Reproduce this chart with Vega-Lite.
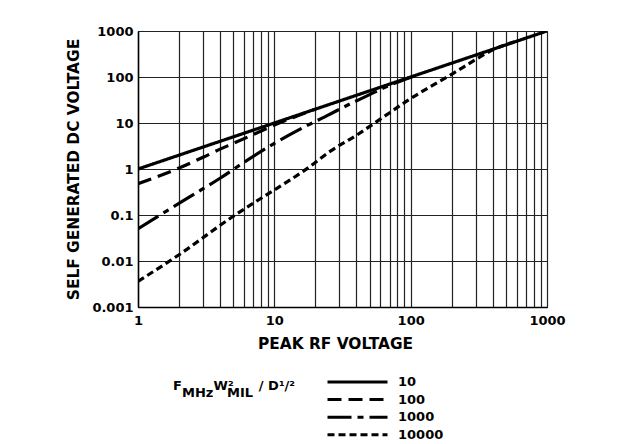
{
  "$schema": "https://vega.github.io/schema/vega-lite/v6.json",
  "description": "Self generated DC voltage vs peak RF voltage, log-log, four parameter curves.",
  "width": 409,
  "height": 276,
  "autosize": {"type": "none"},
  "padding": {"left": 138, "top": 31, "right": 76, "bottom": 137},
  "background": "white",
  "config": {
    "view": {"stroke": "#222", "strokeWidth": 1},
    "axis": {
      "labelFont": "DejaVu Sans",
      "labelFontWeight": "bold",
      "labelFontSize": 13,
      "labelColor": "black",
      "labelFlush": false,
      "labelOverlap": false,
      "titleFont": "DejaVu Sans",
      "titleFontWeight": "bold",
      "titleFontSize": 15.4,
      "titleColor": "black",
      "ticks": false,
      "domainColor": "black",
      "domainWidth": 1.5,
      "gridColor": "#222",
      "gridWidth": 1.2,
      "gridOpacity": 1
    }
  },
  "data": {
    "values": [
      {"series": "10", "x": 1, "y": 1},
      {"series": "10", "x": 1000, "y": 1000},

      {"series": "100", "x": 1, "y": 0.48},
      {"series": "100", "x": 2, "y": 1.05},
      {"series": "100", "x": 3, "y": 1.8},
      {"series": "100", "x": 4, "y": 2.7},
      {"series": "100", "x": 5, "y": 3.6},
      {"series": "100", "x": 7, "y": 5.6},
      {"series": "100", "x": 10, "y": 9},
      {"series": "100", "x": 15, "y": 14.5},
      {"series": "100", "x": 20, "y": 20},

      {"series": "1000", "x": 1, "y": 0.05},
      {"series": "1000", "x": 1.5, "y": 0.106},
      {"series": "1000", "x": 2.9, "y": 0.35},
      {"series": "1000", "x": 4, "y": 0.63},
      {"series": "1000", "x": 6, "y": 1.4},
      {"series": "1000", "x": 10, "y": 3.6},
      {"series": "1000", "x": 12.6, "y": 5.3},
      {"series": "1000", "x": 17, "y": 8.5},
      {"series": "1000", "x": 25, "y": 15},
      {"series": "1000", "x": 34, "y": 24},
      {"series": "1000", "x": 47, "y": 38},
      {"series": "1000", "x": 65, "y": 60},
      {"series": "1000", "x": 90, "y": 88},
      {"series": "1000", "x": 120, "y": 120},

      {"series": "10000", "x": 1, "y": 0.0036},
      {"series": "10000", "x": 2, "y": 0.0137},
      {"series": "10000", "x": 5, "y": 0.094},
      {"series": "10000", "x": 7.4, "y": 0.2},
      {"series": "10000", "x": 10, "y": 0.35},
      {"series": "10000", "x": 18, "y": 1.1},
      {"series": "10000", "x": 25, "y": 2.3},
      {"series": "10000", "x": 40, "y": 5.4},
      {"series": "10000", "x": 62, "y": 13},
      {"series": "10000", "x": 97, "y": 32},
      {"series": "10000", "x": 129, "y": 54},
      {"series": "10000", "x": 208, "y": 123},
      {"series": "10000", "x": 300, "y": 240},
      {"series": "10000", "x": 400, "y": 390},
      {"series": "10000", "x": 600, "y": 600}
    ]
  },
  "mark": {
    "type": "line",
    "color": "black",
    "strokeWidth": 3.2,
    "interpolate": "monotone",
    "strokeCap": "butt",
    "clip": true
  },
  "encoding": {
    "x": {
      "field": "x",
      "type": "quantitative",
      "scale": {"type": "log", "domain": [1, 1000]},
      "axis": {
        "title": "PEAK RF VOLTAGE",
        "titlePadding": 9,
        "titleX": 197,
        "labelPadding": 7,
        "format": "~g",
        "values": [1, 2, 3, 4, 5, 6, 7, 8, 9, 10, 20, 30, 40, 50, 60, 70, 80, 90, 100, 200, 300, 400, 500, 600, 700, 800, 900, 1000],
        "labelExpr": "indexof([1, 10, 100, 1000], datum.value) >= 0 ? datum.label : ''"
      }
    },
    "y": {
      "field": "y",
      "type": "quantitative",
      "scale": {"type": "log", "domain": [0.001, 1000]},
      "axis": {
        "title": "SELF GENERATED DC VOLTAGE",
        "titlePadding": 10,
        "labelPadding": 5,
        "format": "~g",
        "values": [0.001, 0.01, 0.1, 1, 10, 100, 1000]
      }
    },
    "strokeDash": {
      "field": "series",
      "type": "nominal",
      "scale": {
        "domain": ["10", "100", "1000", "10000"],
        "range": [[1, 0], [14, 7], [24, 6, 6, 6], [7, 4]]
      },
      "legend": {
        "orient": "none",
        "legendX": 35,
        "legendY": 342.5,
        "title": ["\u00a0", "F\u00a0\u00a0\u00a0\u00a0\u00a0\u00a0\u00a0W\u00b2\u00a0\u00a0\u00a0\u00a0\u00a0\u2009/\u00a0D\u00b9/\u00b2", "\u200b\u00a0\u00a0MHz\u00a0\u00a0\u00a0MIL"],
        "titleOrient": "left",
        "titleAlign": "left",
        "titleAnchor": "start",
        "titleLineHeight": 6.5,
        "titleFont": "DejaVu Sans",
        "titleFontSize": 13,
        "titleFontWeight": "bold",
        "titleColor": "black",
        "titlePadding": 30,
        "labelFont": "DejaVu Sans",
        "labelFontSize": 13,
        "labelFontWeight": "bold",
        "labelColor": "black",
        "labelOffset": 9,
        "symbolType": "stroke",
        "symbolSize": 3600,
        "symbolStrokeWidth": 3,
        "symbolStrokeColor": "black",
        "clipHeight": 17,
        "rowPadding": 0.6,
        "padding": 0
      }
    }
  }
}
